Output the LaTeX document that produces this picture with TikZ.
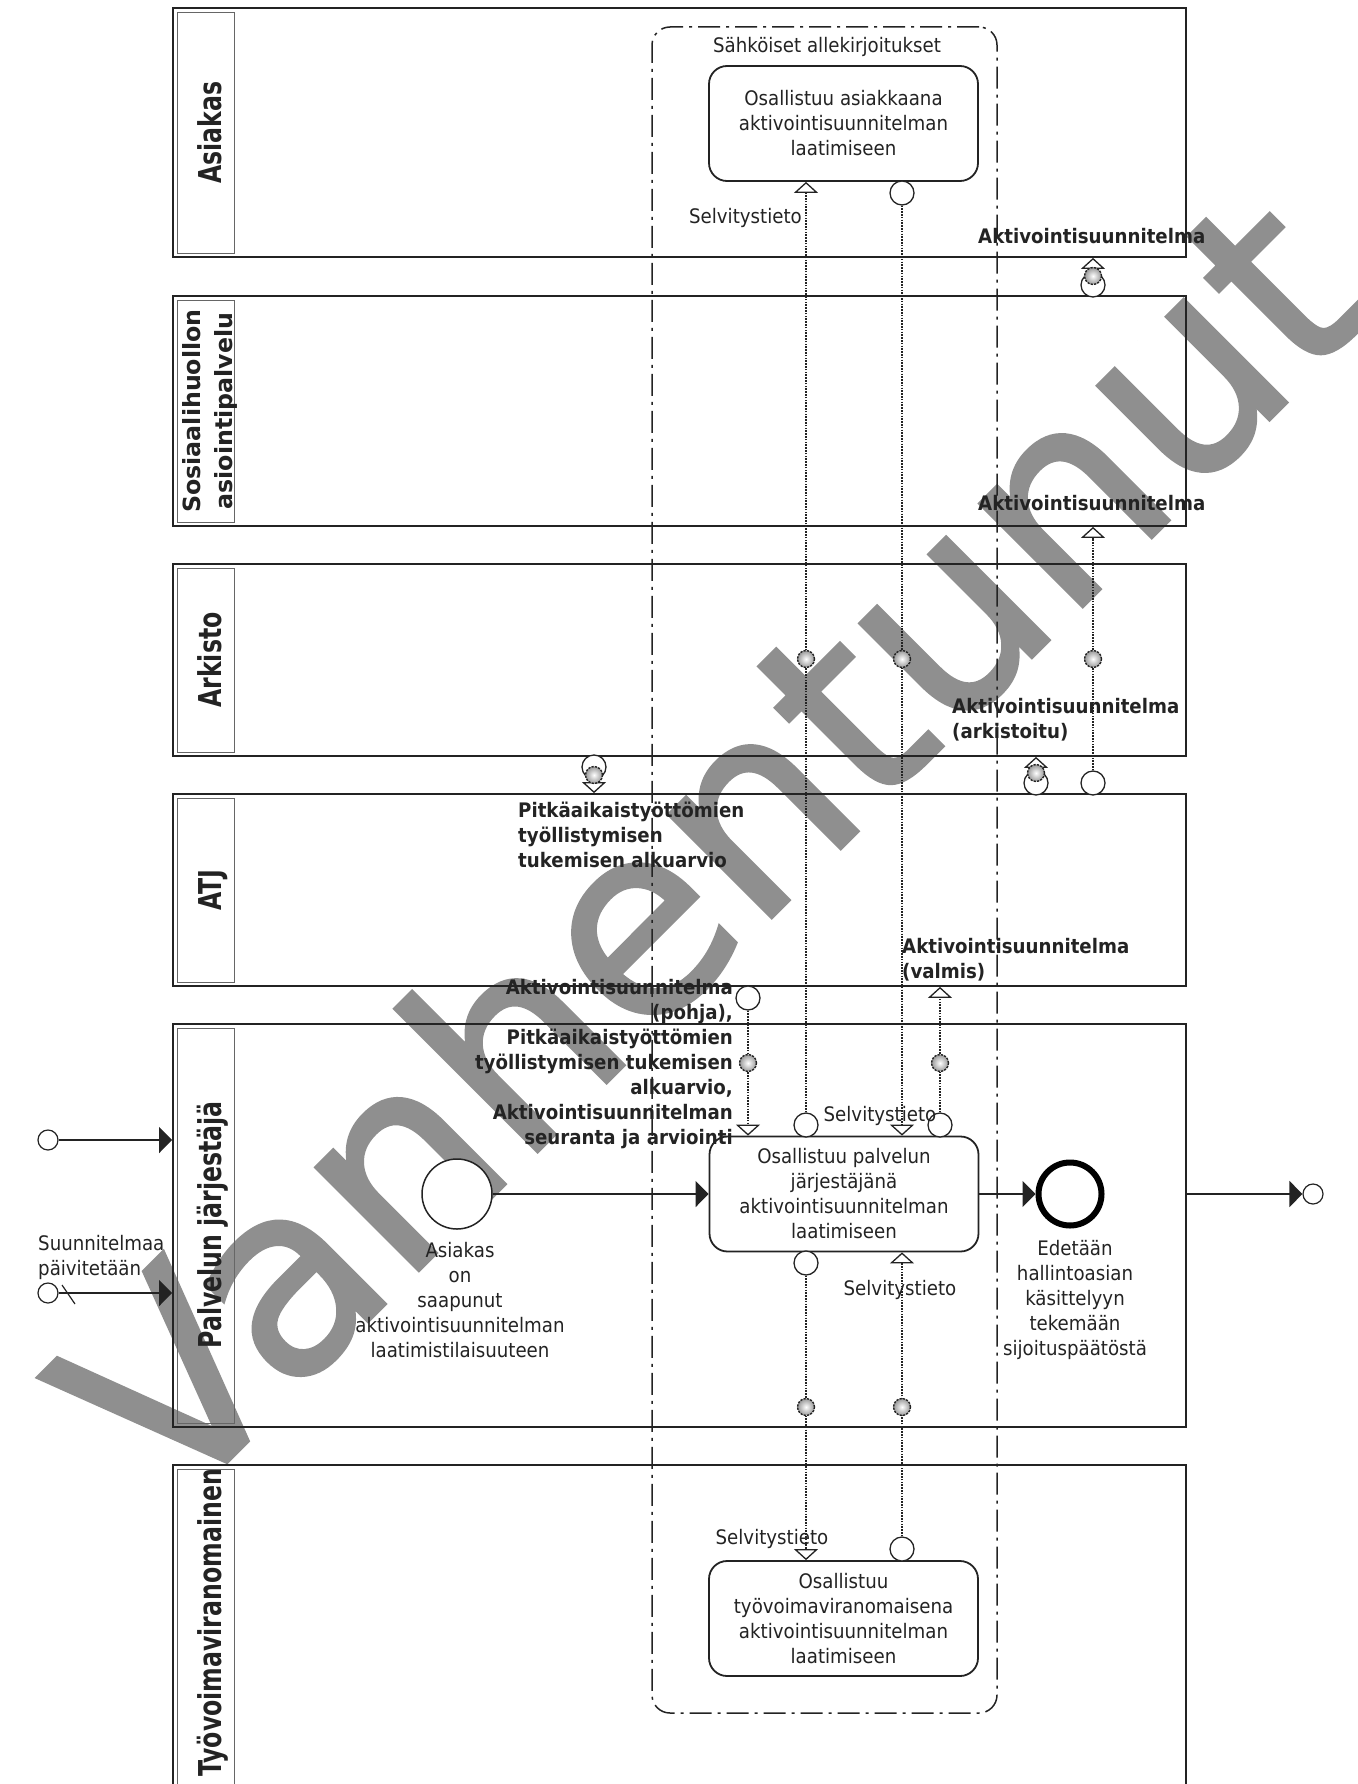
\documentclass[tikz,border=0pt]{standalone}
\usepackage{fontspec}
\setmainfont{DejaVu Sans}[FakeStretch=0.91]
\newfontfamily\lanefont{DejaVu Sans}[FakeStretch=0.75]
\newfontfamily\plainfont{DejaVu Sans}
\newfontfamily\wmkfont{DejaVu Sans}[FakeBold=1.5]
\usetikzlibrary{arrows.meta}
\definecolor{ln}{RGB}{35,35,35}
\definecolor{wm}{RGB}{143,143,143}
\begin{document}
\begin{tikzpicture}[x=1pt,y=-1pt,
  every node/.style={inner sep=0pt, text=ln},
  lane/.style={draw=ln, line width=1.8pt, rectangle, minimum width=1013pt},
  lbox/.style={draw=gray!80!black, line width=0.9pt, rectangle, minimum width=57pt},
  lanetxt/.style={rotate=90, anchor=base, font=\lanefont\bfseries\fontsize{31.5}{33}\selectfont},
  task/.style={rectangle, rounded corners=18pt, draw=ln, line width=1.8pt, fill=white,
    minimum width=269pt, minimum height=115pt, align=center, font=\fontsize{20}{25}\selectfont},
  msgsrc/.style={circle, draw=ln, fill=white, line width=1.3pt, minimum size=24pt},
  smallc/.style={circle, draw=ln, fill=white, line width=1.2pt, minimum size=20pt},
  dmark/.style={circle, minimum size=17pt, draw=ln, line width=1.4pt, dash pattern=on 2.2pt off 1.2pt,
    shade, inner color=white, outer color=gray!80},
  msg/.style={draw=ln, line width=1.8pt, dash pattern=on 1.5pt off 1.3pt,
    -{Triangle[width=24pt, length=11pt, fill=white, line width=1.3pt]}},
  seq/.style={draw=ln, line width=1.5pt, -{Triangle[width=26pt, length=13pt]}},
  grpbox/.style={rectangle, draw=ln, line width=1.5pt, rounded corners=18pt,
    dash pattern=on 22pt off 6pt on 3pt off 6pt},
  lbl/.style={font=\fontsize{20}{25}\selectfont},
  blbl/.style={font=\bfseries\fontsize{20}{25}\selectfont}
]
\useasboundingbox (0,0) rectangle (1357,1784);
% watermark
\node[text=wm, font=\wmkfont\fontsize{265}{265}\selectfont, rotate=45] (wmk) at (705,844) {Vanhentunut};

% lanes
\node[lane, minimum height=249pt] (lA) at (679.5,132.5) {};
\node[lane, minimum height=230pt] (lS) at (679.5,411) {};
\node[lane, minimum height=192pt] (lR) at (679.5,660) {};
\node[lane, minimum height=192pt] (lT) at (679.5,890) {};
\node[lane, minimum height=403pt] (lP) at (679.5,1225.5) {};
\node[lane, minimum height=335pt] (lV) at (679.5,1632.5) {};
\node[lbox, minimum height=241pt] (bA) at (205.5,132.5) {};
\node[lbox, minimum height=222pt] (bS) at (205.5,411) {};
\node[lbox, minimum height=184pt] (bR) at (205.5,660) {};
\node[lbox, minimum height=184pt] (bT) at (205.5,890) {};
\node[lbox, minimum height=395pt] (bP) at (205.5,1225.5) {};
\node[lbox, minimum height=327pt] (bV) at (205.5,1632.5) {};
\node[lanetxt] (nA) at (221,132.5) {Asiakas};
\node[rotate=90, align=center, font=\plainfont\bfseries\fontsize{23.7}{32}\selectfont] (nS) at (210,411) {Sosiaalihuollon\\asiointipalvelu};
\node[lanetxt] (nR) at (221,660) {Arkisto};
\node[lanetxt] (nT) at (221,890) {ATJ};
\node[lanetxt] (nP) at (221,1225) {Palvelun järjestäjä};
\node[lanetxt] (nV) at (221,1623) {Työvoimaviranomainen};

% group
\node[grpbox, minimum width=345pt, minimum height=1686pt] (grp) at (824.5,870) {};
\node[lbl] (gl) at (827,47) {Sähköiset allekirjoitukset};

% tasks
\node[task] (ta) at (843.5,123.5) {Osallistuu asiakkaana\\aktivointisuunnitelman\\laatimiseen};
\node[task] (tp) at (844,1194) {Osallistuu palvelun\\järjestäjänä\\aktivointisuunnitelman\\laatimiseen};
\node[task] (tt) at (843.5,1618.5) {Osallistuu\\työvoimaviranomaisena\\aktivointisuunnitelman\\laatimiseen};

% events
\node[circle, draw=ln, line width=1.5pt, fill=white, minimum size=70pt] (se) at (457,1194) {};
\node[circle, draw=black, line width=6pt, fill=white, minimum size=63pt] (ee) at (1070,1194) {};
\node[lbl, align=center] (sel) at (460,1300) {Asiakas\\on\\saapunut\\aktivointisuunnitelman\\laatimistilaisuuteen};
\node[lbl, align=center] (eel) at (1075,1300) {Edetään\\hallintoasian\\käsittelyyn\\tekemään\\sijoituspäätöstä};
\draw[seq] (se) -- (tp);
\draw[seq] (tp) -- (ee);

% external flows
\node[smallc] (x1) at (48,1140) {};
\node[smallc] (x2) at (48,1293) {};
\node[smallc] (x3) at (1313,1194) {};
\draw[seq] (x1) -- (x1 -| lP.west);
\draw[seq] (x2) -- (x2 -| lP.west);
\draw[seq] (x3 -| lP.east) -- (x3);
\draw[draw=ln, line width=1.2pt] (62,1285) -- (75,1304);
\node[lbl, align=left, anchor=west] (xl) at (38,1257) {Suunnitelmaa\\päivitetään};

% message flow sources
\node[msgsrc] (c1) at (806,1125) {};
\node[msgsrc] (c2) at (902,193) {};
\node[msgsrc] (c3) at (940,1125) {};
\node[msgsrc] (c4) at (748,998) {};
\node[msgsrc] (c5) at (594,767) {};
\node[msgsrc] (c6) at (1036,783) {};
\node[msgsrc] (c7) at (1093,783) {};
\node[msgsrc] (c8) at (1093,285) {};
\node[msgsrc] (c9) at (806,1263) {};
\node[msgsrc] (c10) at (902,1549) {};

\draw[msg] (c1) -- (c1 |- ta.south);
\draw[msg] (c2) -- (c2 |- tp.north);
\draw[msg] (c3) -- (c3 |- lT.south);
\draw[msg] (c4) -- (c4 |- tp.north);
\draw[msg] (c5) -- (c5 |- lT.north);
\draw[msg] (c6) -- (c6 |- lR.south);
\draw[msg] (c7) -- (c7 |- lS.south);
\draw[msg] (c8) -- (c8 |- lA.south);
\draw[msg] (c9) -- (c9 |- tt.north);
\draw[msg] (c10) -- (c10 |- tp.south);

% data markers
\node[dmark] (d1) at (806,659) {};
\node[dmark] (d2) at (902,659) {};
\node[dmark] (d3) at (940,1063) {};
\node[dmark] (d4) at (748,1063) {};
\node[dmark] (d5) at (594,775) {};
\node[dmark] (d6) at (1036,773) {};
\node[dmark] (d7) at (1093,659) {};
\node[dmark] (d8) at (1093,276) {};
\node[dmark] (d9) at (806,1407) {};
\node[dmark] (d10) at (902,1407) {};

% labels
\node[lbl, anchor=east] (s1) at (802,218) {Selvitystieto};
\node[lbl] (s2) at (880,1116) {Selvitystieto};
\node[lbl] (s3) at (900,1290) {Selvitystieto};
\node[lbl] (s4) at (772,1539) {Selvitystieto};
\node[blbl, anchor=west] (a1) at (978,236) {Aktivointisuunnitelma};
\node[blbl, anchor=west] (a2) at (978,503) {Aktivointisuunnitelma};
\node[blbl, anchor=west, align=left] (a3) at (952,720) {Aktivointisuunnitelma\\(arkistoitu)};
\node[blbl, anchor=west, align=left] (a4) at (518,835) {Pitkäaikaistyöttömien\\työllistymisen\\tukemisen alkuarvio};
\node[blbl, anchor=west, align=left] (a5) at (902,960) {Aktivointisuunnitelma\\(valmis)};
\node[blbl, anchor=east, align=right] (a6) at (733,1064) {Aktivointisuunnitelma\\(pohja),\\Pitkäaikaistyöttömien\\työllistymisen tukemisen\\alkuarvio,\\Aktivointisuunnitelman\\seuranta ja arviointi};
\end{tikzpicture}
\end{document}
